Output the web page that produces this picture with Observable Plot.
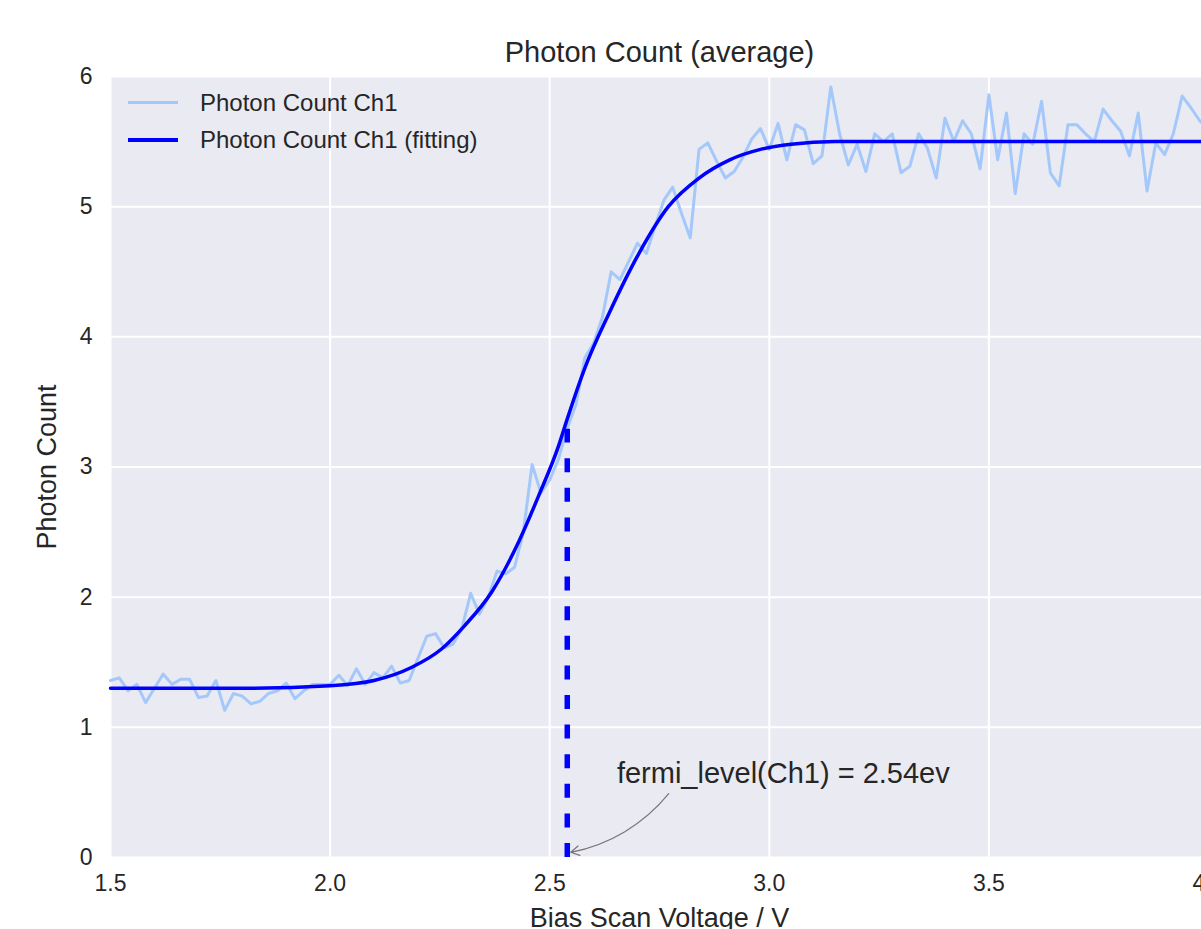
<!DOCTYPE html>
<html><head><meta charset="utf-8">
<script src="https://cdn.jsdelivr.net/npm/d3@7"></script>
<script src="https://cdn.jsdelivr.net/npm/@observablehq/plot@0.6"></script>
<style>
html,body{margin:0;padding:0;overflow:hidden;background:#fff;}
#wrap{position:relative;width:1201px;height:929px;overflow:hidden;font-family:"Liberation Sans",Arial,sans-serif;}
#wrap svg{max-width:none !important;display:block;position:absolute;left:0;top:0;}
.legend{position:absolute;left:128px;top:84px;color:#262626;font-size:24px;z-index:2;}
.row{display:flex;align-items:center;height:37px;}
.sw{width:50px;height:0;border-top-style:solid;margin-right:22px;}
</style></head>
<body><div id="wrap"></div>
<script>
// ---- data ----
const voltStart = 1.5;          // first sample of the measured series (V)
const voltStep = 0.02;          // sampling step (V)
const photonCh1 = [
  1.36,1.38,1.28,1.33,1.19,1.30,1.41,1.33,1.37,1.37,
  1.23,1.24,1.36,1.13,1.26,1.24,1.18,1.20,1.26,1.28,
  1.34,1.22,1.28,1.33,1.33,1.33,1.40,1.32,1.45,1.33,
  1.42,1.38,1.47,1.34,1.36,1.53,1.70,1.72,1.61,1.64,
  1.76,2.03,1.87,2.00,2.20,2.18,2.23,2.50,3.02,2.80,
  2.90,3.06,3.30,3.48,3.84,3.95,4.15,4.50,4.44,4.58,
  4.72,4.64,4.85,5.05,5.15,4.95,4.76,5.44,5.49,5.35,
  5.22,5.27,5.38,5.52,5.60,5.44,5.64,5.36,5.63,5.59,
  5.33,5.39,5.92,5.56,5.32,5.48,5.27,5.56,5.50,5.56,
  5.26,5.31,5.56,5.45,5.22,5.68,5.50,5.66,5.56,5.29,
  5.86,5.36,5.72,5.10,5.56,5.48,5.81,5.26,5.16,5.63,
  5.63,5.56,5.50,5.75,5.66,5.58,5.39,5.72,5.12,5.49,
  5.40,5.56,5.85,5.76,5.66,5.60
];
const fitVolts  = [1.50,1.80,2.00,2.10,2.185,2.253,2.306,2.368,2.43,2.475,2.52,2.54,2.58,2.635,2.703,2.77,2.84,2.91,2.98,3.05,3.15,3.30,4.00];
const fitCounts = [1.30,1.30,1.32,1.36,1.46,1.60,1.78,2.04,2.43,2.78,3.16,3.37,3.76,4.18,4.64,5.00,5.22,5.36,5.44,5.48,5.50,5.50,5.50];
const fermiLevel = 2.54;
const fermiLineTop = 3.29;
const xTicks = [1.5, 2.0, 2.5, 3.0, 3.5, 4.0];
const yTicks = [0, 1, 2, 3, 4, 5, 6];
const titleText = "Photon Count (average)";
const xLabel = "Bias Scan Voltage / V";
const yLabel = "Photon Count";
const seriesNames = ["Photon Count Ch1", "Photon Count Ch1 (fitting)"];
const seriesColors = ["#a5c8fb", "#0000ff"];
const annotationText = "fermi_level(Ch1) = 2.54ev";
const annotationAt = {x: 2.653, y: 0.645};
const arrowFrom = {x: 2.771, y: 0.49};
const arrowTo = {x: 2.548, y: 0.04};

// ---- build tables ----
const measured = photonCh1.map((v, i) => ({v: voltStart + i * voltStep, c: v}));
const fitted = fitVolts.map((v, i) => ({v, c: fitCounts[i]}));
const font = '"Liberation Sans", Arial, sans-serif';
const ink = "#262626";

const chart = Plot.plot({
  width: 1260, height: 945,
  marginLeft: 110, marginRight: 52, marginTop: 76, marginBottom: 88,
  style: {fontFamily: font, background: "transparent", maxWidth: "none", color: ink},
  x: {domain: [1.5, 4.0]},
  y: {domain: [0, 6]},
  marks: [
    Plot.frame({fill: "#EAEAF2", stroke: "none"}),
    Plot.gridX(xTicks, {stroke: "white", strokeOpacity: 1, strokeWidth: 2}),
    Plot.gridY(yTicks, {stroke: "white", strokeOpacity: 1, strokeWidth: 2}),
    Plot.axisX(xTicks, {tickSize: 0, tickPadding: 17, fontSize: 23, tickFormat: d3.format(".1f"), label: null, fill: ink}),
    Plot.axisY(yTicks, {tickSize: 0, tickPadding: 18, fontSize: 23, tickFormat: d3.format("d"), label: null, fill: ink}),
    Plot.line(measured, {x: "v", y: "c", stroke: seriesColors[0], strokeWidth: 3}),
    Plot.ruleX([fermiLevel], {y1: 0, y2: fermiLineTop, stroke: seriesColors[1], strokeWidth: 5.5, strokeDasharray: "14,15.6"}),
    Plot.line(fitted, {x: "v", y: "c", curve: "monotone-x", stroke: seriesColors[1], strokeWidth: 3.5}),
    Plot.arrow([{a: arrowFrom, b: arrowTo}], {
      x1: d => d.a.x, y1: d => d.a.y, x2: d => d.b.x, y2: d => d.b.y,
      bend: 20, stroke: "#777", strokeWidth: 1.2, headLength: 12
    }),
    Plot.text([annotationText], {x: () => annotationAt.x, y: () => annotationAt.y, text: d => d, textAnchor: "start", lineAnchor: "middle", fontSize: 29, fill: ink}),
    Plot.text([titleText], {text: d => d, frameAnchor: "top", dy: -24, lineAnchor: "middle", textAnchor: "middle", fontSize: 29, fill: ink}),
    Plot.text([xLabel], {text: d => d, frameAnchor: "bottom", dy: 61, lineAnchor: "middle", textAnchor: "middle", fontSize: 27, fill: ink}),
    Plot.text([yLabel], {text: d => d, frameAnchor: "left", dx: -63, rotate: -90, lineAnchor: "middle", textAnchor: "middle", fontSize: 27, fill: ink})
  ]
});
const wrap = document.getElementById("wrap");
wrap.appendChild(chart);

// legend (HTML overlay)
const legend = document.createElement("div");
legend.className = "legend";
seriesNames.forEach((name, i) => {
  const row = document.createElement("div");
  row.className = "row";
  const sw = document.createElement("span");
  sw.className = "sw";
  sw.style.borderTopColor = seriesColors[i];
  sw.style.borderTopWidth = (i === 0 ? 3 : 4) + "px";
  const t = document.createElement("span");
  t.textContent = name;
  row.appendChild(sw); row.appendChild(t);
  legend.appendChild(row);
});
wrap.appendChild(legend);
</script>
</body></html>
